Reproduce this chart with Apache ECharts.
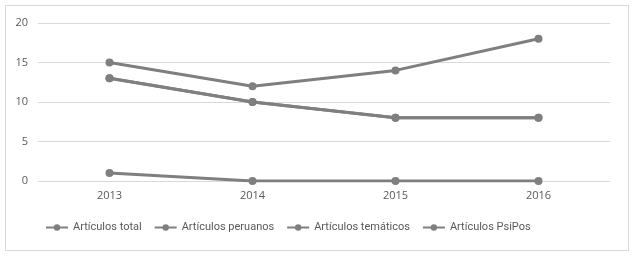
<!DOCTYPE html>
<html>
<head>
<meta charset="utf-8">
<script src="https://cdn.jsdelivr.net/npm/echarts@6/dist/echarts.min.js"></script>
<style>
  html, body { margin:0; padding:0; background:#fff; }
  #box { position:absolute; left:5px; top:5px; width:622px; height:244px; border:1px solid #d9d9d9; }
  #chart { position:absolute; left:0; top:0; width:634px; height:256px; }
</style>
</head>
<body>
<div id="box"></div>
<div id="chart"></div>
<script>
// data
var years = ['2013', '2014', '2015', '2016'];
var total = [15, 12, 14, 18];
var peruanos = [13, 10, 8, 8];
var tematicos = [13, 10, 8, 8];
var psipos = [1, 0, 0, 0];
var names = ['Artículos total', 'Artículos peruanos', 'Artículos temáticos', 'Artículos PsiPos'];

var grey = '#7f7f7f';
var chart = echarts.init(document.getElementById('chart'));

function mkSeries(name, data) {
    return {
        name: name,
        type: 'line',
        data: data,
        symbol: 'circle',
        symbolSize: 8,
        lineStyle: { color: grey, width: 3 },
        itemStyle: { color: grey },
        animation: false
    };
}

var option = {
    textStyle: { fontFamily: 'Open Sans' },
    grid: { left: 38, right: 24, top: 23, bottom: 75 },
    legend: {
        left: 40,
        top: 217,
        itemWidth: 22,
        itemHeight: 8,
        itemGap: 12,
        textStyle: { color: '#595959', fontSize: 11, fontFamily: 'Roboto' },
        data: names
    },
    xAxis: {
        type: 'category',
        data: years,
        axisLine: { lineStyle: { color: '#d9d9d9' } },
        axisTick: { show: false },
        axisLabel: { color: '#595959', fontSize: 11, margin: 9 }
    },
    yAxis: {
        type: 'value',
        min: 0,
        max: 20,
        interval: 5,
        axisLine: { show: false },
        axisTick: { show: false },
        splitLine: { lineStyle: { color: '#d9d9d9' } },
        axisLabel: { color: '#595959', fontSize: 11, margin: 10 }
    },
    series: [
        mkSeries(names[0], total),
        mkSeries(names[1], peruanos),
        mkSeries(names[2], tematicos),
        mkSeries(names[3], psipos)
    ]
};
chart.setOption(option);
</script>
</body>
</html>
